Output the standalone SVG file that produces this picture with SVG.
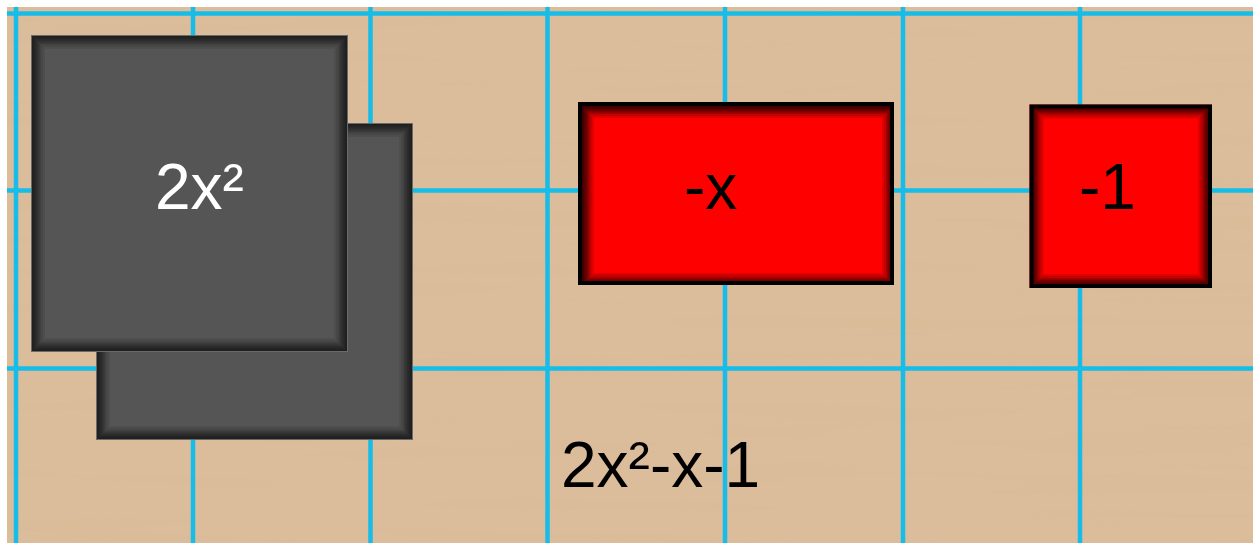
<svg xmlns="http://www.w3.org/2000/svg" width="1253" height="543" viewBox="0 0 1253 543">
  <defs>
    <filter id="grain" x="0" y="0" width="1" height="1">
      <feTurbulence type="fractalNoise" baseFrequency="0.003 0.06" numOctaves="3" seed="7" result="n"/>
      <feColorMatrix in="n" type="matrix" values="0 0 0 0 0.70  0 0 0 0 0.50  0 0 0 0 0.30  4 0 0 0 -2.2"/>
    </filter>
    <g id="ringsDark" fill="none" stroke="#000" stroke-opacity="0.08">
      <rect x="0.5" y="0.5" width="316" height="316" stroke-width="1"/>
      <rect x="1" y="1" width="315" height="315" stroke-width="2"/>
      <rect x="1.5" y="1.5" width="314" height="314" stroke-width="3"/>
      <rect x="2" y="2" width="313" height="313" stroke-width="4"/>
      <rect x="2.5" y="2.5" width="312" height="312" stroke-width="5"/>
      <rect x="3" y="3" width="311" height="311" stroke-width="6"/>
      <rect x="3.5" y="3.5" width="310" height="310" stroke-width="7"/>
      <rect x="4" y="4" width="309" height="309" stroke-width="8"/>
      <rect x="4.5" y="4.5" width="308" height="308" stroke-width="9"/>
      <rect x="5" y="5" width="307" height="307" stroke-width="10"/>
      <rect x="6" y="6" width="305" height="305" stroke-width="12"/>
      <rect x="7" y="7" width="303" height="303" stroke-width="14"/>
    </g>
    <g id="ringsRedWide" fill="none" stroke="#000" stroke-opacity="0.13">
      <rect x="0.5" y="0.5" width="311" height="178" stroke-width="1"/>
      <rect x="1" y="1" width="310" height="177" stroke-width="2"/>
      <rect x="1.5" y="1.5" width="309" height="176" stroke-width="3"/>
      <rect x="2" y="2" width="308" height="175" stroke-width="4"/>
      <rect x="2.5" y="2.5" width="307" height="174" stroke-width="5"/>
      <rect x="3" y="3" width="306" height="173" stroke-width="6"/>
      <rect x="3.5" y="3.5" width="305" height="172" stroke-width="7"/>
      <rect x="4" y="4" width="304" height="171" stroke-width="8"/>
      <rect x="5" y="5" width="302" height="169" stroke-width="10"/>
      <rect x="6" y="6" width="300" height="167" stroke-width="12"/>
    </g>
    <g id="ringsRedSq" fill="none" stroke="#000" stroke-opacity="0.13">
      <rect x="0.5" y="0.5" width="177.5" height="178.5" stroke-width="1"/>
      <rect x="1" y="1" width="176.5" height="177.5" stroke-width="2"/>
      <rect x="1.5" y="1.5" width="175.5" height="176.5" stroke-width="3"/>
      <rect x="2" y="2" width="174.5" height="175.5" stroke-width="4"/>
      <rect x="2.5" y="2.5" width="173.5" height="174.5" stroke-width="5"/>
      <rect x="3" y="3" width="172.5" height="173.5" stroke-width="6"/>
      <rect x="3.5" y="3.5" width="171.5" height="172.5" stroke-width="7"/>
      <rect x="4" y="4" width="170.5" height="171.5" stroke-width="8"/>
      <rect x="5" y="5" width="168.5" height="169.5" stroke-width="10"/>
      <rect x="6" y="6" width="166.5" height="167.5" stroke-width="12"/>
    </g>
  </defs>
  <style>
    .grid line { stroke: #17BDE9; stroke-width: 4.5; }
    .dark { fill: #555555; }
    .darkEdge { fill: none; stroke: #6a6a6a; stroke-width: 1; }
    .red { fill: #FF0000; }
    .redEdge { fill: none; stroke: #000; stroke-width: 4; }
    .lbl { font-family: "Liberation Sans", Arial, Helvetica, sans-serif; font-size: 64px; }
  </style>
  <rect x="0" y="0" width="1253" height="543" fill="#ffffff"/>
  <g id="board">
    <rect x="7" y="7" width="1246" height="536" fill="#DBBC9B"/>
    <rect x="7" y="7" width="1246" height="536" fill="#000" filter="url(#grain)" opacity="0.3"/>
  </g>
  <g id="grid" class="grid">
    <line x1="16" y1="7" x2="16" y2="543"/>
    <line x1="193" y1="7" x2="193" y2="543"/>
    <line x1="370.5" y1="7" x2="370.5" y2="543"/>
    <line x1="547.5" y1="7" x2="547.5" y2="543"/>
    <line x1="725" y1="7" x2="725" y2="543"/>
    <line x1="903" y1="7" x2="903" y2="543"/>
    <line x1="1080" y1="7" x2="1080" y2="543"/>
    <line x1="7" y1="13.5" x2="1253" y2="13.5"/>
    <line x1="7" y1="190.5" x2="1253" y2="190.5"/>
    <line x1="7" y1="368.5" x2="1253" y2="368.5"/>
  </g>
  <g id="tile-x2-back">
    <rect class="dark" x="96" y="123" width="317" height="317"/>
    <use href="#ringsDark" x="96" y="123"/>
    <rect class="darkEdge" x="96.5" y="123.5" width="316" height="316"/>
  </g>
  <g id="tile-x2-front">
    <rect class="dark" x="31" y="35" width="317" height="317"/>
    <use href="#ringsDark" x="31" y="35"/>
    <rect class="darkEdge" x="31.5" y="35.5" width="316" height="316"/>
    <text class="lbl" x="155" y="209" fill="#ffffff">2x²</text>
  </g>
  <g id="tile-neg-x">
    <rect class="red" x="578" y="102" width="316" height="183"/>
    <use href="#ringsRedWide" x="582" y="106"/>
    <rect class="redEdge" x="580" y="104" width="312" height="179"/>
    <text class="lbl" x="684" y="209" fill="#000000">-x</text>
  </g>
  <g id="tile-neg-1">
    <rect class="red" x="1029.5" y="104.5" width="182.5" height="183.5"/>
    <use href="#ringsRedSq" x="1031.5" y="106.5"/>
    <rect class="redEdge" x="1031.5" y="106.5" width="178.5" height="179.5"/>
    <text class="lbl" x="1079" y="209" fill="#000000">-1</text>
  </g>
  <g id="expression">
    <text class="lbl" x="561" y="487" fill="#000000">2x²-x-1</text>
  </g>
</svg>
